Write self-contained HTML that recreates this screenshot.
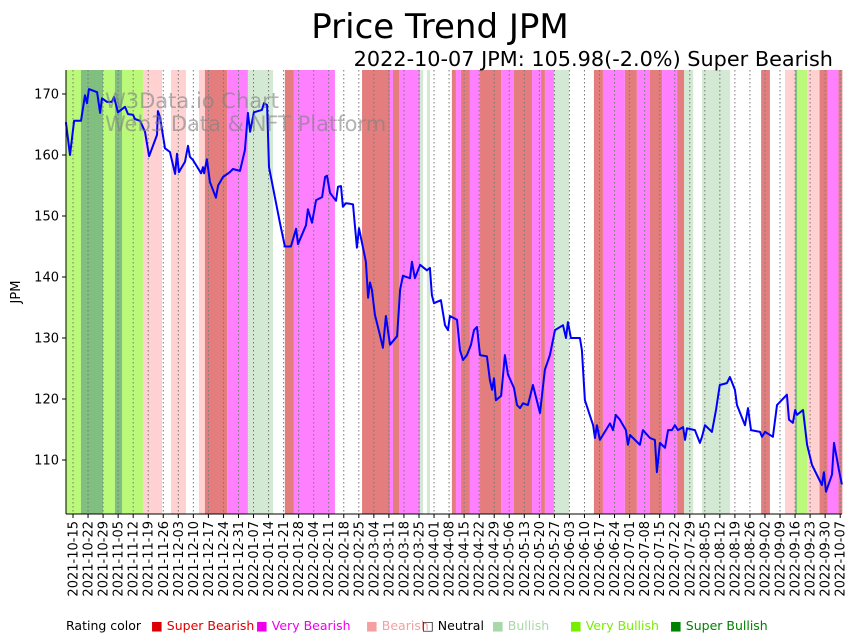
<!DOCTYPE html>
<html><head><meta charset="utf-8"><style>
body{margin:0;background:#fff;font-family:"Liberation Sans","DejaVu Sans",sans-serif;}
svg{display:block}
</style></head><body>
<svg id="chart" width="857" height="641" xmlns="http://www.w3.org/2000/svg" font-family="DejaVu Sans, Liberation Sans, sans-serif"></svg>
<script>
// ---- data ----
const startDate = "2021-10-15";
const tickLabels = [];
const priceDays = [-3.3,-1.4,0.5,3.7,5.6,6.5,7.4,11.2,12.6,13.5,15.8,18.1,19.1,20.9,24.2,25.6,27.9,28.8,31.2,32.1,33.5,35.4,39.1,39.5,40.5,42.8,45.1,47.5,48.4,49.3,52.1,53.5,54.4,55.8,59.6,60.5,61,62.3,63.7,66.5,67.5,69.8,73,74.4,77.7,80,81.4,82.4,84.2,87.9,88.9,90.3,91.2,96.3,98.6,101.4,103.8,104.7,108.4,109.3,111.2,113.1,115.9,117.3,118.2,119.6,122.4,123.3,124.7,125.6,127,128.9,130.3,132.1,133.1,136.3,137.3,138.2,139.1,140.5,142.8,144.2,145.6,147.5,150.8,152.2,153.5,156.8,157.7,159.1,161.5,164.7,166.1,167,168,171.2,173.1,174.5,175.4,178.7,180.1,181.5,183.3,185.2,186.6,188,189.4,192.6,194,195,195.9,196.8,199.2,201,202.4,205.2,206.6,208,209.4,211.7,214,217.3,219.6,221.9,224.3,228,229.4,230.3,231.7,235.9,236.8,238.2,242,242.9,243.8,245.2,249.9,251.3,252.6,254.5,257.3,258.2,259.2,263.8,265.2,268.5,270.8,271.7,273.1,275.5,276.9,278.7,280.1,281.5,283.9,284.8,285.7,289.4,291.7,292.7,294.1,297.3,299.2,301,304.3,305.7,308,309,312.7,314.1,315.5,319.7,320.6,322,325.7,327.6,332.2,333.2,335,336,336.9,339.7,341.6,343.9,348.5,349.4,350.4,353.2,354.1,356.4,357.8];
const prices = [165.4,160,165.6,165.6,169.8,168.5,170.8,170.3,166.9,169.3,168.7,168.7,169.5,167,167.9,166.7,166.6,165.9,165.6,164.9,163.8,159.8,163.3,167.2,166.2,161.1,160.5,156.9,160.2,157.2,158.9,161.5,159.7,159.2,157,158,157,159.3,155.6,153,155,156.4,157.2,157.7,157.4,160.8,166.9,163.8,167,167.4,168.5,168.2,158,148.9,145,145,147.9,145.4,148.5,151.1,148.9,152.6,153.1,156.4,156.6,153.8,152.5,154.8,154.9,151.5,152.1,152,151.9,144.8,148,142.5,136.6,139.1,137.9,133.8,130.5,128.4,133.6,128.9,130.3,137.9,140.2,139.8,142.5,139.8,142,141.1,141.5,137,135.7,136.2,132.1,131.3,133.6,133,128,126.4,127.2,128.9,131.3,131.8,127.2,127,123.1,121.5,123.4,119.8,120.5,127.2,124,121.8,119,118.5,119.3,119,122.3,117.7,124.8,127.2,131.3,132.1,130,132.6,130,130,128,119.8,115.7,113.6,115.7,113.3,116,114.9,117.4,116.6,114.9,112.5,114.1,112.5,114.9,113.6,113.3,108,112.8,112,114.9,114.9,115.7,114.9,115.4,113.3,115.2,114.9,112.8,113.8,115.7,114.6,118.2,122.3,122.6,123.6,121.5,119,115.7,118.5,114.9,114.6,113.8,114.6,113.8,119,120.7,116.6,116.1,118.2,117.4,118.2,112.5,109.2,105.9,108,104.8,107.6,112.8,108.4,106];
const bandStarts = [-3.3,3.7,14,19.5,22.8,32.6,45.6,58.6,61.4,71.7,81.4,98.6,102.8,134.5,147.5,148.9,151.7,161.5,164.7,176.3,178.2,180.5,184.7,189.4,199.2,205.2,213.6,217.8,219.6,223.8,242.4,246.6,256.8,262.4,268.5,274.1,281.1,284.4,292.7,320.2,331.3,336,336.9,341.6,347.4,351.1,356.2];
const bandEnds   = [3.7,14,19.5,22.8,32.6,41.4,52.6,61.4,71.7,81.4,93.1,102.8,121.9,147.5,148.9,151.7,161.5,162.9,166.1,178.2,180.5,184.7,189.4,199.2,205.2,213.6,217.8,219.6,223.8,230.8,246.6,256.8,262.4,268.5,274.1,281.1,284.4,288.6,305.7,324.3,336,336.9,341.6,347.4,351.1,356.2,358];
const bandRatings = ["vbull","sbull","vbull","sbull","vbull","bear","bear","bear","sbear","vbear","bull","sbear","vbear","sbear","vbear","sbear","vbear","bull","bull","sbear","vbear","sbear","vbear","sbear","vbear","sbear","vbear","sbear","vbear","bull","sbear","vbear","sbear","vbear","sbear","vbear","sbear","bull","bull","sbear","bear","sbull","vbull","bear","sbear","vbear","sbear"];
const yTicks = [110,120,130,140,150,160,170];

// ---- scales ----
const NS="http://www.w3.org/2000/svg";
const svg=document.getElementById('chart');
const X0=73, PXD=2.149, PL=66, PR=842, PT=70, PB=514;
const xs=d=>X0+d*PXD;
const ys=v=>94+(170-v)*6.1;
const colors={sbear:"#e47e7e",vbear:"#ff80ff",bear:"#ffd1d1",neutral:"#ffffff",bull:"#d3e9d3",vbull:"#baf97a",sbull:"#80bf80"};
function mk(tag,attrs,parent){const e=document.createElementNS(NS,tag);for(const k in attrs)e.setAttribute(k,attrs[k]);(parent||svg).appendChild(e);return e;}

for(let i=0;i<bandStarts.length;i++){
  const r=mk('rect',{x:xs(bandStarts[i]),y:PT,width:Math.max(0.5,xs(bandEnds[i])-xs(bandStarts[i])),height:PB-PT,fill:colors[bandRatings[i]]});
  
  
}
// ticks
const sd=new Date(startDate+"T00:00:00Z");
for(let w=0;w<=51;w++){
  const dt=new Date(sd.getTime()+w*7*86400000);
  tickLabels.push(dt.toISOString().slice(0,10));
}
tickLabels.forEach((lab,w)=>{
  const x=xs(w*7);
  const g=mk('line',{x1:x,x2:x,y1:PT,y2:PB,stroke:"#777","stroke-width":1,"stroke-dasharray":"1.5,2.5"});
  
  
  mk('line',{x1:x,x2:x,y1:PB,y2:PB+4,stroke:"#000"});
  const t=mk('text',{x:0,y:0,"font-size":13,"text-anchor":"end",transform:`translate(${x+4.5},${PB+7}) rotate(-90)`});
  t.textContent=lab;
  
  
});
yTicks.forEach(v=>{
  const y=ys(v);
  mk('line',{x1:PL-4,x2:PL,y1:y,y2:y,stroke:"#000"});
  const t=mk('text',{x:PL-7,y:y+4.5,"font-size":13,"text-anchor":"end"});
  t.textContent=v;
  
  
});
// price line
let d='';
priceDays.forEach((dd,i)=>{d+=(i?'L':'M')+xs(dd).toFixed(1)+','+ys(prices[i]).toFixed(1);});
const pl=mk('path',{d:d,fill:"none",stroke:"#0000ff","stroke-width":2,"stroke-linejoin":"round"});


// axes
mk('line',{x1:PL,x2:PL,y1:PT,y2:PB,stroke:"#000","stroke-width":1});
mk('line',{x1:PL,x2:PR,y1:PB,y2:PB,stroke:"#000","stroke-width":1});
// watermark
const w1=mk('text',{x:105,y:108,"font-size":21,fill:"#808080","fill-opacity":0.6});w1.textContent="W3Data.io Chart";


const w2=mk('text',{x:105,y:131,"font-size":21,fill:"#808080","fill-opacity":0.6});w2.textContent="Web3 Data & NFT Platform";


// titles
const tt=mk('text',{x:440,y:38,"font-size":34,"text-anchor":"middle"});tt.textContent="Price Trend JPM";


const st=mk('text',{x:833,y:66,"font-size":20.8,"text-anchor":"end"});st.textContent="2022-10-07 JPM: 105.98(-2.0%) Super Bearish";


const yl=mk('text',{x:0,y:0,"font-size":13,"text-anchor":"middle",transform:"translate(20,292) rotate(-90)"});yl.textContent="JPM";


// legend
const legNames=["Super Bearish","Very Bearish","Bearish","Neutral","Bullish","Very Bullish","Super Bullish"];
const legCols=["#dd0000","#ee00ee","#f5a0a0","#000000","#a8d8a8","#77ee00","#008000"];
const legX=[151,256,366,422,492,570,670];
const lt=mk('text',{x:66,y:630,"font-size":12.5});lt.textContent="Rating color";


legNames.forEach((n,i)=>{
  const t=mk('text',{x:legX[i],y:630,"font-size":12.5,fill:i==3?"#000":legCols[i]});
  t.textContent=(i==3?"\u25A1":"\u25A0")+" "+n;
  
  
});
</script>
</body></html>
